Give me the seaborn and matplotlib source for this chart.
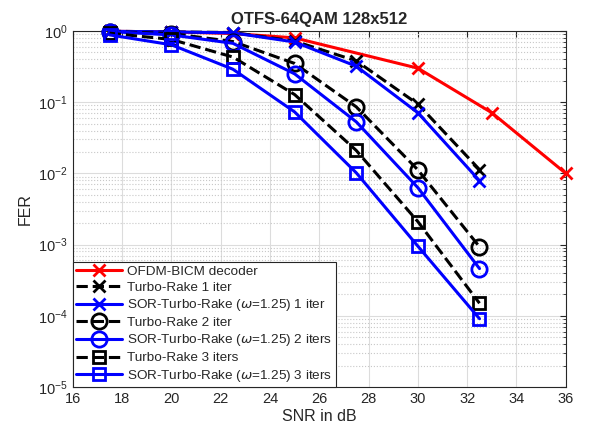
import matplotlib
matplotlib.use("Agg")
import matplotlib.pyplot as plt
import seaborn as sns
import pandas as pd
from matplotlib.ticker import LogLocator, NullFormatter

sns.set_style("whitegrid")
plt.rcParams['font.family'] = ['Liberation Sans', 'DejaVu Sans']
plt.rcParams['mathtext.fontset'] = 'dejavusans'

# ----- data -----
snr_ofdm = [17.5, 20, 22.5, 25, 30, 33, 36]
fer_ofdm = [0.99, 0.97, 0.92, 0.80, 0.30, 0.071, 0.010]

snr = [17.5, 20, 22.5, 25, 27.5, 30, 32.5]
fer_turbo_1 = [0.99, 0.97, 0.95, 0.72, 0.38, 0.094, 0.0113]
fer_sor_1 = [0.99, 0.97, 0.94, 0.70, 0.32, 0.071, 0.0079]
fer_turbo_2 = [0.98, 0.92, 0.71, 0.35, 0.086, 0.0112, 0.00093]
fer_sor_2 = [0.98, 0.88, 0.67, 0.25, 0.053, 0.0063, 0.00046]
fer_turbo_3 = [0.93, 0.76, 0.43, 0.128, 0.021, 0.0021, 0.00015]
fer_sor_3 = [0.88, 0.64, 0.29, 0.073, 0.0102, 0.00095, 0.000091]

series = [
    ("OFDM-BICM decoder", snr_ofdm, fer_ofdm, "red", "-", "x"),
    ("Turbo-Rake 1 iter", snr, fer_turbo_1, "black", "--", "x"),
    (r"SOR-Turbo-Rake ($\omega$=1.25) 1 iter", snr, fer_sor_1, "blue", "-", "x"),
    ("Turbo-Rake 2 iter", snr, fer_turbo_2, "black", "--", "o"),
    (r"SOR-Turbo-Rake ($\omega$=1.25) 2 iters", snr, fer_sor_2, "blue", "-", "o"),
    ("Turbo-Rake 3 iters", snr, fer_turbo_3, "black", "--", "s"),
    (r"SOR-Turbo-Rake ($\omega$=1.25) 3 iters", snr, fer_sor_3, "blue", "-", "s"),
]

fig, ax = plt.subplots(figsize=(6.11, 4.3), dpi=100)
fig.subplots_adjust(left=0.119, right=0.926, top=0.928, bottom=0.10)

for label, x, y, color, ls, mk in series:
    df = pd.DataFrame({"snr": x, "fer": y})
    msize = {"x": 8, "o": 11, "s": 8.5}[mk]
    sns.lineplot(data=df, x="snr", y="fer", ax=ax, color=color, linestyle=ls,
                 linewidth=2.2, marker=mk, markersize=msize, markeredgewidth=2,
                 markerfacecolor="none", markeredgecolor=color, label=label,
                 clip_on=False, zorder=3)

ax.set_yscale("log")
ax.set_xlim(16, 36)
ax.set_ylim(1e-5, 1)
ax.set_xticks(range(16, 37, 2))
ax.yaxis.set_major_locator(LogLocator(base=10, numticks=10))
ax.yaxis.set_minor_locator(LogLocator(base=10, subs=range(2, 10), numticks=10))
ax.yaxis.set_minor_formatter(NullFormatter())

ax.grid(which="major", color="#dcdcdc", linestyle="-", linewidth=0.8)
ax.grid(which="minor", axis="y", color="#c8c8c8", linestyle=":", linewidth=0.8)
for s in ax.spines.values():
    s.set_color("#262626")
    s.set_linewidth(0.8)
ax.tick_params(which="both", direction="in", top=True, right=True, labelsize=10.5,
               colors="#262626")
ax.tick_params(which="major", length=4)
ax.tick_params(which="minor", length=2)

ax.set_xlabel("SNR in dB", fontsize=11.5, color="#262626", labelpad=2)
ax.set_ylabel("FER", fontsize=11.5, color="#262626", labelpad=4)
ax.set_title("OTFS-64QAM 128x512", fontsize=12, fontweight="bold", pad=5)

leg = ax.legend(loc="lower left", fontsize=9.7, frameon=True, fancybox=False,
                edgecolor="#262626", framealpha=1, borderaxespad=0,
                handlelength=3.4, labelspacing=0.25, borderpad=0.25,
                handletextpad=0.4)
leg.get_frame().set_linewidth(0.8)
leg.set_zorder(5)

fig.savefig("out.png", dpi=100)
